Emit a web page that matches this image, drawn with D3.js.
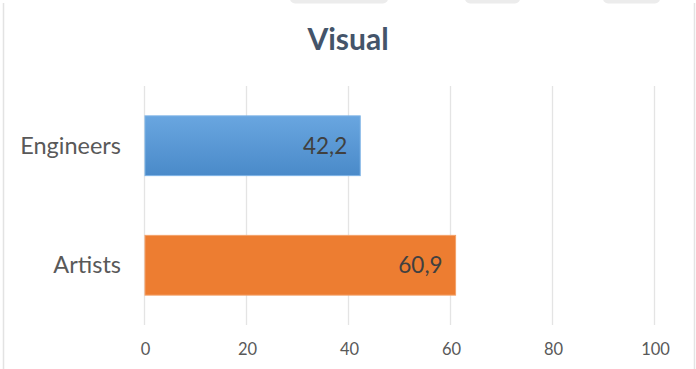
<!DOCTYPE html>
<html>
<head>
<meta charset="utf-8">
<script src="https://cdn.jsdelivr.net/npm/d3@7"></script>
<style>
  html, body { margin: 0; padding: 0; background: #fff; }
  svg { display: block; }
</style>
</head>
<body>
<svg id="chart" width="696" height="369"></svg>
<script>
// Chart data
const title = "Visual";
const categories = ["Engineers", "Artists"];
const values = [42.2, 60.9];
const barColors = ["#5b9bd5", "#ed7d31"];
const tickValues = [0, 20, 40, 60, 80, 100];

const W = 696, H = 369;
const svg = d3.select("#chart");
const font = "Lato, 'Open Sans', sans-serif";

// Frame pieces along the page edges
svg.append("line").attr("x1", 3.5).attr("x2", 3.5).attr("y1", 3).attr("y2", H)
  .attr("stroke", "#e3e3e3").attr("stroke-width", 1.5);
svg.append("line").attr("x1", 694.5).attr("x2", 694.5).attr("y1", 3).attr("y2", H)
  .attr("stroke", "#e3e3e3").attr("stroke-width", 1.5);
const tabs = [[290, 388], [465, 520], [603, 660]];
svg.selectAll("rect.tab").data(tabs).join("rect")
  .attr("class", "tab")
  .attr("x", d => d[0]).attr("width", d => d[1] - d[0])
  .attr("y", -6).attr("height", 9.5).attr("rx", 5)
  .attr("fill", "#ececec");

// Gradient for the blue bar
const defs = svg.append("defs");
const grad = defs.append("linearGradient").attr("id", "blueGrad")
  .attr("x1", 0).attr("x2", 0).attr("y1", 0).attr("y2", 1);
grad.append("stop").attr("offset", "0%").attr("stop-color", "#69a6e0");
grad.append("stop").attr("offset", "100%").attr("stop-color", "#4a8ac9");

const margin = { left: 145, right: 41, top: 86, bottom: 44 };
const x = d3.scaleLinear().domain([0, 100]).range([margin.left, W - margin.right]);
const y = d3.scaleBand().domain(categories).range([margin.top, H - margin.bottom]).paddingInner(0.5).paddingOuter(0.25);

// Title
svg.append("text")
  .attr("x", 348).attr("y", 50)
  .attr("text-anchor", "middle")
  .attr("font-family", font)
  .attr("font-weight", "bold")
  .attr("font-size", 30)
  .attr("fill", "#44546a")
  .text(title);

// Vertical gridlines
svg.append("g").selectAll("line").data(tickValues).join("line")
  .attr("x1", d => x(d) - 0.5).attr("x2", d => x(d) - 0.5)
  .attr("y1", margin.top).attr("y2", H - margin.bottom)
  .attr("stroke", "#e4e4e4").attr("stroke-width", 1.3);

// Bottom axis tick labels
const xAxis = d3.axisBottom(x).tickValues(tickValues).tickSize(0).tickPadding(0).tickFormat(d3.format("d"));
const gx = svg.append("g").attr("transform", `translate(0,${H - margin.bottom})`).call(xAxis);
gx.select(".domain").remove();
gx.selectAll("text")
  .attr("y", 30).attr("dy", 0)
  .attr("font-family", font).attr("font-size", 16.5).attr("fill", "#595959");

// Category axis labels
const yAxis = d3.axisLeft(y).tickSize(0).tickPadding(0);
const gy = svg.append("g").attr("transform", `translate(${margin.left - 24},0)`).call(yAxis);
gy.select(".domain").remove();
gy.selectAll("text")
  .attr("font-family", font).attr("font-size", 23.5).attr("fill", "#595959").attr("dy", "0.35em");

// Bars
const rows = categories.map((c, i) => ({ cat: c, val: values[i], color: barColors[i] }));
svg.append("g").selectAll("rect").data(rows).join("rect")
  .attr("x", x(0))
  .attr("y", d => y(d.cat))
  .attr("width", d => x(d.val) - x(0))
  .attr("height", y.bandwidth())
  .attr("fill", (d, i) => i === 0 ? "url(#blueGrad)" : d.color)
  .attr("stroke", (d, i) => i === 0 ? "#7db3e6" : "#f3a26a")
  .attr("stroke-width", 1);

// Value labels inside bar ends
const fmt = v => d3.format(".1f")(v).replace(".", ",");
svg.append("g").selectAll("text").data(rows).join("text")
  .attr("x", d => x(d.val) - 13)
  .attr("y", d => y(d.cat) + y.bandwidth() / 2)
  .attr("dy", "0.35em")
  .attr("text-anchor", "end")
  .attr("font-family", font).attr("font-size", 22.5)
  .attr("fill", "#404040")
  .text(d => fmt(d.val));
</script>
</body>
</html>
